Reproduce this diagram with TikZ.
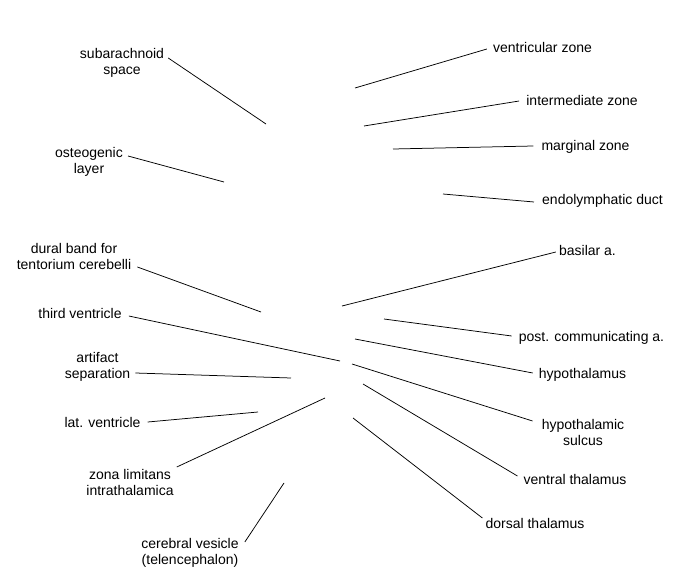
\documentclass[tikz,border=0pt]{standalone}
\usepackage{fontspec}
\setmainfont{Liberation Sans}
\begin{document}
\begin{tikzpicture}[x=1pt,y=-1pt,
  lbl/.style={font=\fontsize{14}{16}\selectfont, inner sep=0pt, align=center},
  one/.style={lbl, text height=10.2pt, text depth=3pt},
  lead/.style={draw=black, line width=0.75pt}]
\useasboundingbox (0,0) rectangle (675,580);
% left labels
\node[lbl] (sub) at (122,63) {subarachnoid\\space};
\node[lbl] (ost) at (89,162) {osteogenic\\layer};
\node[lbl] (dur) at (74,256) {dural band for\\tentorium cerebelli};
\node[one] (tv)  at (80,315) {third ventricle};
\node[lbl] (art) at (97.5,367) {artifact\\separation};
\node[one] (lat) at (102.5,424) {lat. ventricle};
\node[lbl] (zona) at (130,482) {zona limitans\\intrathalamica};
\node[lbl] (cer) at (190,553) {cerebral vesicle\\(telencephalon)};
% right labels
\node[one] (vz)  at (542.5,49) {ventricular zone};
\node[one] (iz)  at (582,102) {intermediate zone};
\node[one] (mz)  at (585.5,147) {marginal zone};
\node[one] (ed)  at (602.5,201) {endolymphatic duct};
\node[one] (bas) at (587.5,252) {basilar a.};
\node[one] (pc)  at (591.5,338) {post. communicating a.};
\node[one] (hyp) at (582.5,375) {hypothalamus};
\node[lbl] (hs)  at (583,432) {hypothalamic\\sulcus};
\node[one] (vt)  at (575,481) {ventral thalamus};
\node[one] (dt)  at (535,525) {dorsal thalamus};
% free ends
\coordinate (psub) at (266,124);
\coordinate (post) at (224,182);
\coordinate (pdur) at (261,312);
\coordinate (ptv)  at (340,361);
\coordinate (part) at (291,378);
\coordinate (plat) at (258,412);
\coordinate (pzona) at (325,398);
\coordinate (pcer) at (284,483);
\coordinate (pvz)  at (355,88);
\coordinate (piz)  at (364,126);
\coordinate (pmz)  at (393,149);
\coordinate (ped)  at (443,194);
\coordinate (pbas) at (342,306);
\coordinate (ppc)  at (384,319);
\coordinate (phyp) at (355,339);
\coordinate (phs)  at (352,364);
\coordinate (pvt)  at (363,384);
\coordinate (pdt)  at (353,418);
% leaders
\draw[lead] ([shift={(4,-5)}]sub.east) -- (psub);
\draw[lead] ([shift={(5,-6)}]ost.east) -- (post);
\draw[lead] ([shift={(6,11)}]dur.east) -- (pdur);
\draw[lead] ([shift={(7,1)}]tv.east) -- (ptv);
\draw[lead] ([shift={(5,6)}]art.east) -- (part);
\draw[lead] ([shift={(7,-2)}]lat.east) -- (plat);
\draw[lead] ([shift={(3,-15)}]zona.east) -- (pzona);
\draw[lead] ([shift={(6,-11)}]cer.east) -- (pcer);
\draw[lead] ([shift={(-6,0)}]vz.west) -- (pvz);
\draw[lead] ([shift={(-7,-1)}]iz.west) -- (piz);
\draw[lead] ([shift={(-8,-1)}]mz.west) -- (pmz);
\draw[lead] ([shift={(-8,1)}]ed.west) -- (ped);
\draw[lead] ([shift={(-3,0)}]bas.west) -- (pbas);
\draw[lead] ([shift={(-7,-2)}]pc.west) -- (ppc);
\draw[lead] ([shift={(-6,-2)}]hyp.west) -- (phyp);
\draw[lead] ([shift={(-9,-11)}]hs.west) -- (phs);
\draw[lead] ([shift={(-6,-5)}]vt.west) -- (pvt);
\draw[lead] ([shift={(-3,-7)}]dt.west) -- (pdt);
\end{tikzpicture}
\end{document}
